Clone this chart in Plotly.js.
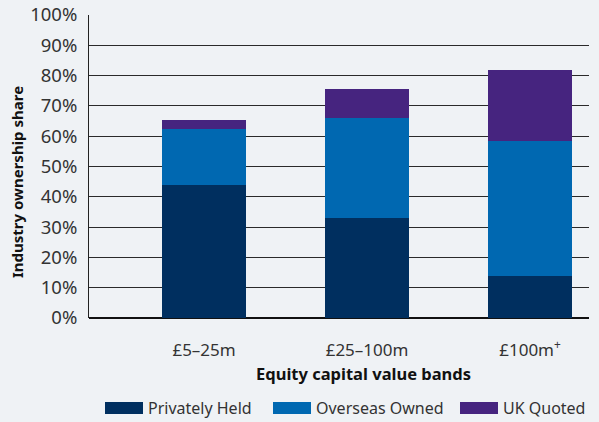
<!DOCTYPE html>
<html>
<head>
<meta charset="utf-8">
<script src="https://cdn.plot.ly/plotly-3.0.1.min.js"></script>
<style>html,body{margin:0;padding:0;background:#eff2f5;}</style>
</head>
<body>
<div id="chart" style="width:599px;height:422px;"></div>
<script>
const categories = ["£5–25m", "£25–100m", "£100m<sup>+</sup>"];
const seriesNames = ["Privately Held", "Overseas Owned", "UK Quoted"];
const privatelyHeld = [44, 33, 14];
const overseasOwned = [18.5, 33, 44.5];
const ukQuoted = [3, 9.6, 23.2];
const yTickVals = [0,10,20,30,40,50,60,70,80,90,100];
const yTickText = yTickVals.map(v => v + "%");
const xTitle = "Equity capital value bands";
const yTitle = "Industry ownership share";

const colors = ["#002f5f", "#0068b1", "#46247f"];
const font = "'Noto Sans', 'Open Sans', sans-serif";
const seriesValues = [privatelyHeld, overseasOwned, ukQuoted];
const traces = seriesValues.map((y, i) => ({
  type: "bar", x: categories, y: y, name: seriesNames[i],
  marker: {color: colors[i], line: {width: 0}},
  width: 0.515, hoverinfo: "skip", showlegend: false
}));

const px = x => (x - 89) / 500;
const py = y => (318 - y) / 303;

// custom legend (wide swatches like the reference)
const legendX = [105, 273, 460];
const shapes = [];
const annotations = [];
seriesNames.forEach((n, i) => {
  shapes.push({type: "rect", xref: "paper", yref: "paper",
    x0: px(legendX[i]), x1: px(legendX[i] + 38),
    y0: py(414), y1: py(402),
    fillcolor: colors[i], line: {width: 0}, layer: "above"});
  annotations.push({xref: "paper", yref: "paper", showarrow: false,
    x: px(legendX[i] + 41), xanchor: "left",
    y: py(408), yanchor: "middle",
    text: n, font: {size: 16, color: "#333", family: font}});
});
annotations.push({xref: "paper", yref: "paper", showarrow: false,
  x: px(363), xanchor: "center", y: py(373), yanchor: "middle",
  text: "<b>" + xTitle + "</b>", font: {size: 16.5, color: "#111", family: font}});
annotations.push({xref: "paper", yref: "paper", showarrow: false,
  x: px(17), xanchor: "center", y: py(182), yanchor: "middle", textangle: -90,
  text: "<b>" + yTitle + "</b>", font: {size: 15, color: "#111", family: font}});

const layout = {
  width: 599, height: 422,
  paper_bgcolor: "#eff2f5", plot_bgcolor: "#eff2f5",
  margin: {l: 89, r: 10, t: 15, b: 104},
  barmode: "stack",
  font: {family: font, color: "#222", size: 16},
  xaxis: {
    type: "category", range: [-0.706, 2.362],
    showgrid: false, zeroline: false, showline: false,
    ticks: "", ticklabelstandoff: 20, tickfont: {size: 17, color: "#333"}
  },
  yaxis: {
    range: [0, 100], tickvals: yTickVals, ticktext: yTickText,
    showgrid: true, gridcolor: "#2a2a2a", gridwidth: 1,
    zeroline: true, zerolinecolor: "#111", zerolinewidth: 1.5,
    showline: true, linecolor: "#222", linewidth: 1,
    ticks: "", ticklabelstandoff: 7, tickfont: {size: 18.5, color: "#333"}
  },
  shapes: shapes,
  annotations: annotations,
  showlegend: false
};

Plotly.newPlot("chart", traces, layout, {displayModeBar: false, staticPlot: true});
</script>
</body>
</html>
